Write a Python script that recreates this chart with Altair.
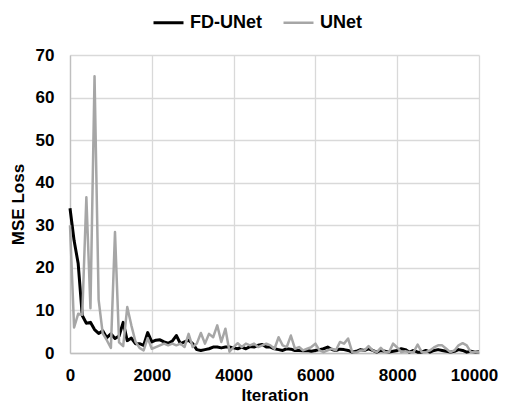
import altair as alt
import pandas as pd

iterations = list(range(0, 10001, 100))

fd_unet = [34, 26.4, 21, 8.8, 7.0, 7.2, 5.5, 4.6, 5.2, 3.6,
           4.5, 3.4, 4.0, 7.2, 2.9, 3.5, 2.2, 2.2, 1.8, 4.8,
           2.6, 3.0, 3.1, 2.6, 2.3, 2.8, 4.1, 2.2, 2.6, 3.0,
           2.2, 0.8, 0.6, 0.8, 1.0, 1.4, 1.4, 1.2, 1.4, 1.4,
           1.2, 1.0, 1.4, 1.0, 1.5, 1.4, 1.8, 2.0, 1.4, 1.4,
           1.0, 0.8, 0.6, 1.0, 0.9, 0.6, 0.6, 0.5, 0.6, 0.4,
           0.6, 0.8, 1.0, 1.4, 0.8, 0.6, 0.9, 0.8, 0.6, 0.2,
           0.4, 0.8, 0.6, 1.0, 0.6, 0.2, 0.6, 0.4, 0.2, 0.4,
           0.6, 1.0, 0.8, 0.2, 0.6, 0.2, 0.2, 0.6, 0.2, 0.6,
           0.8, 0.6, 0.4, 0.2, 0.4, 0.8, 0.6, 0.2, 0.4, 0.2,
           0.3]

unet = [30, 6, 9.2, 9.0, 36.6, 10.5, 65, 12.5, 4.6, 3.0,
        1.2, 28.4, 2.5, 1.6, 10.8, 6.5, 2.7, 1.2, 0.6, 3.5,
        1.0, 1.4, 1.8, 2.2, 1.8, 2.2, 1.8, 2.2, 1.4, 4.5,
        1.4, 2.2, 4.7, 2.2, 4.5, 3.7, 6.5, 2.6, 5.7, 0.3,
        1.4, 2.3, 1.4, 2.2, 1.8, 2.2, 1.4, 1.8, 2.2, 1.8,
        1.0, 3.7, 1.8, 1.4, 4.1, 1.0, 1.4, 0.6, 1.0, 1.4,
        2.2, 0.6, 0.2, 0.6, 1.0, 0.6, 2.6, 2.2, 3.4, 0.2,
        0.1, 0.6, 0.6, 1.6, 0.6, 0.2, 1.2, 0.2, 0.2, 2.2,
        1.3, 0.2, 0.4, 0.2, 0.2, 2.0, 0.2, 0.2, 0.6, 1.3,
        1.8, 1.8, 1.0, 0.2, 0.6, 1.8, 2.3, 1.8, 0.2, 0.2,
        0.2]

series_names = ["FD-UNet", "UNet"]
series_colors = ["#000000", "#a6a6a6"]
series_widths = [3, 2.5]
x_ticks = [0, 2000, 4000, 6000, 8000, 10000]
y_ticks = [0, 10, 20, 30, 40, 50, 60, 70]

df = pd.concat([
    pd.DataFrame({"Iteration": iterations, "Loss": fd_unet, "Series": "FD-UNet"}),
    pd.DataFrame({"Iteration": iterations, "Loss": unet, "Series": "UNet"}),
])

FONT = "Liberation Sans"

chart = alt.Chart(df).mark_line(strokeJoin="round").encode(
    x=alt.X("Iteration:Q",
            scale=alt.Scale(domain=[0, 10000], nice=False),
            axis=alt.Axis(values=x_ticks, format="d", title="Iteration",
                          labelPadding=14, titlePadding=4, labelFlush=False,
                          labelOffset={"condition": {"test": "datum.value == 10000", "value": -5},
                                       "value": 0})),
    y=alt.Y("Loss:Q",
            scale=alt.Scale(domain=[0, 70], nice=False),
            axis=alt.Axis(values=y_ticks, title="MSE Loss",
                          labelPadding=16, titlePadding=8, labelFlush=False)),
    color=alt.Color("Series:N",
                    scale=alt.Scale(domain=series_names, range=series_colors),
                    legend=alt.Legend(title=None, orient="none", direction="horizontal",
                                      legendX=82, legendY=-49,
                                      symbolType="stroke", symbolSize=900,
                                      symbolStrokeWidth=3, labelFontSize=18,
                                      labelFont=FONT, labelFontWeight="bold",
                                      labelColor="#000000", labelOffset=5,
                                      columnPadding=16)),
    strokeWidth=alt.StrokeWidth("Series:N",
                                scale=alt.Scale(domain=series_names, range=series_widths),
                                legend=None),
).properties(
    width=409,
    height=298,
    autosize=alt.AutoSizeParams(type="none"),
    padding={"left": 62, "top": 47, "right": 20, "bottom": 50},
).configure_axis(
    labelFont=FONT,
    labelFontWeight="bold",
    labelFontSize=17,
    labelColor="#000000",
    titleFont=FONT,
    titleFontWeight="bold",
    titleFontSize=17,
    titleColor="#000000",
    gridColor="#d9d9d9",
    gridWidth=1.3,
    domainColor="#bfbfbf",
    domainWidth=1.3,
    ticks=False,
).configure_view(
    stroke=None,
)

chart.save("out.html", embed_options={"renderer": "svg", "actions": False})
